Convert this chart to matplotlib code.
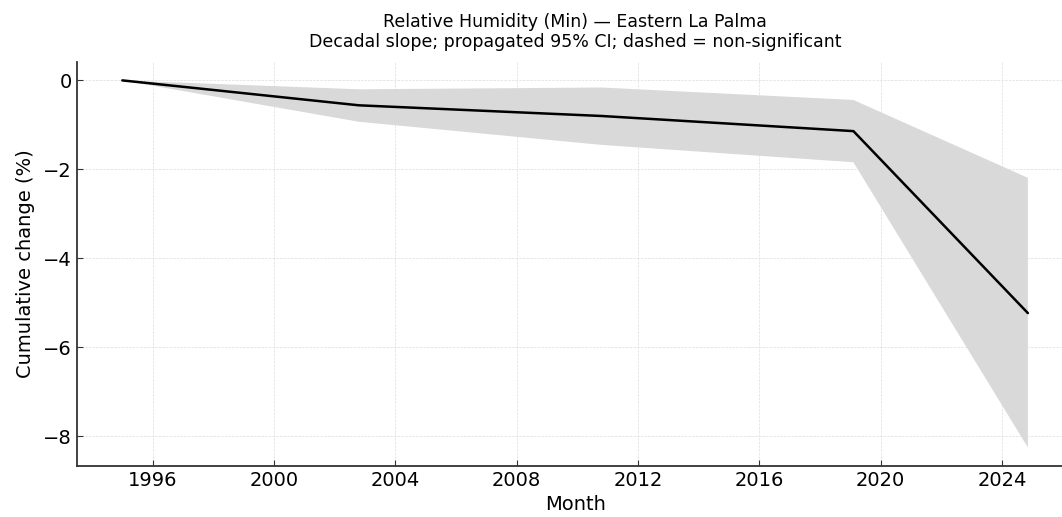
import matplotlib
matplotlib.use('Agg')

import numpy as np
import matplotlib.pyplot as plt

# decimal year of each segment end, cumulative change and its 95% band
years = [1995.0, 2002.8, 2010.8, 2019.1, 2024.85]
change = [0.0, -0.56, -0.80, -1.14, -5.23]
ci_upper = [0.0, -0.20, -0.16, -0.44, -2.19]
ci_lower = [0.0, -0.93, -1.45, -1.84, -8.25]

fig = plt.figure(figsize=(10.62, 5.17), dpi=100)
# axes run a little past the right edge, as in the reference
ax = fig.add_axes([0.0725, 0.099, 0.938, 0.781])

ax.fill_between(years, ci_lower, ci_upper, facecolor='#d9d9d9', edgecolor='none', lw=0)
ax.plot(years, change, color='black', lw=1.8, solid_capstyle='round')

ax.set_xticks([1996, 2000, 2004, 2008, 2012, 2016, 2020, 2024])
ax.set_yticks([0, -2, -4, -6, -8])
ax.grid(True, ls='--', lw=0.5, color='#dddddd')
ax.set_axisbelow(True)
for s in ['top', 'right']:
    ax.spines[s].set_visible(False)
for s in ['left', 'bottom']:
    ax.spines[s].set_linewidth(1.3)
    ax.spines[s].set_color('#333333')
ax.tick_params(direction='in', labelsize=14, length=4, color='#333333')

ax.set_xlabel('Month', fontsize=14, labelpad=4)
ax.set_ylabel('Cumulative change (%)', fontsize=14, labelpad=6)
ax.set_title('Relative Humidity (Min) \u2014 Eastern La Palma\n'
             'Decadal slope; propagated 95% CI; dashed = non-significant',
             fontsize=12.5, pad=11, linespacing=1.1)

fig.savefig('out.png', dpi=100)
